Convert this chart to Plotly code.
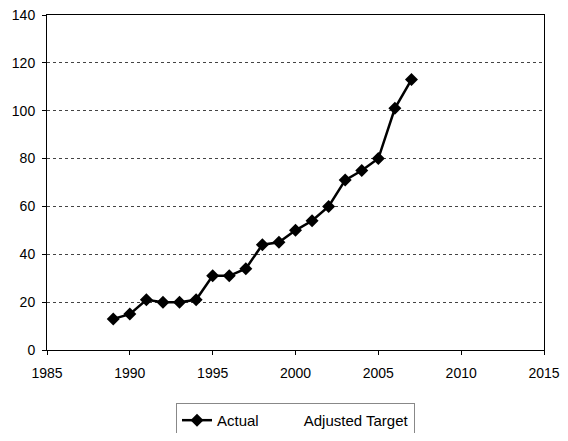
import plotly.graph_objects as go

years = [1989, 1990, 1991, 1992, 1993, 1994, 1995, 1996, 1997, 1998,
         1999, 2000, 2001, 2002, 2003, 2004, 2005, 2006, 2007]
actual = [13, 15, 21, 20, 20, 21, 31, 31, 34, 44,
          45, 50, 54, 60, 71, 75, 80, 101, 113]

fig = go.Figure()

fig.add_trace(go.Scatter(
    x=years, y=actual, name="Actual", mode="lines+markers",
    line=dict(color="black", width=2.5),
    marker=dict(symbol="diamond", size=10, color="black"),
))
# second series appears only in the legend
fig.add_trace(go.Scatter(
    x=[None], y=[None], name="Adjusted Target", mode="lines",
    line=dict(color="rgba(0,0,0,0)", width=2),
))

# page body adds an 8px margin on every side, so keep the figure inside the window
fig.update_layout(
    width=552, height=425,
    margin=dict(l=39, r=16, t=7, b=83, autoexpand=False),
    paper_bgcolor="white", plot_bgcolor="white",
    font=dict(family="Liberation Sans, Arial, sans-serif", size=14, color="black"),
    showlegend=True,
    legend=dict(
        orientation="h", x=0.5, xanchor="center", y=-0.158, yanchor="top",
        bordercolor="#888", borderwidth=1, font=dict(size=15),
        itemwidth=30,
    ),
)
fig.update_xaxes(
    range=[1985, 2015], dtick=5, tick0=1985, automargin=False,
    ticklabeloverflow="allow",
    showgrid=False, zeroline=False,
    showline=True, linecolor="black", linewidth=1, mirror=True,
    ticks="outside", ticklen=4, tickcolor="black", ticklabelstandoff=6,
)
fig.update_yaxes(
    range=[0, 140], dtick=20, automargin=False,
    ticklabeloverflow="allow",
    showgrid=True, gridcolor="#444", gridwidth=1, griddash="dot",
    zeroline=False,
    showline=True, linecolor="black", linewidth=1, mirror=True,
    ticks="outside", ticklen=4, tickcolor="black", ticklabelstandoff=4,
)

fig.write_html("out.html")
